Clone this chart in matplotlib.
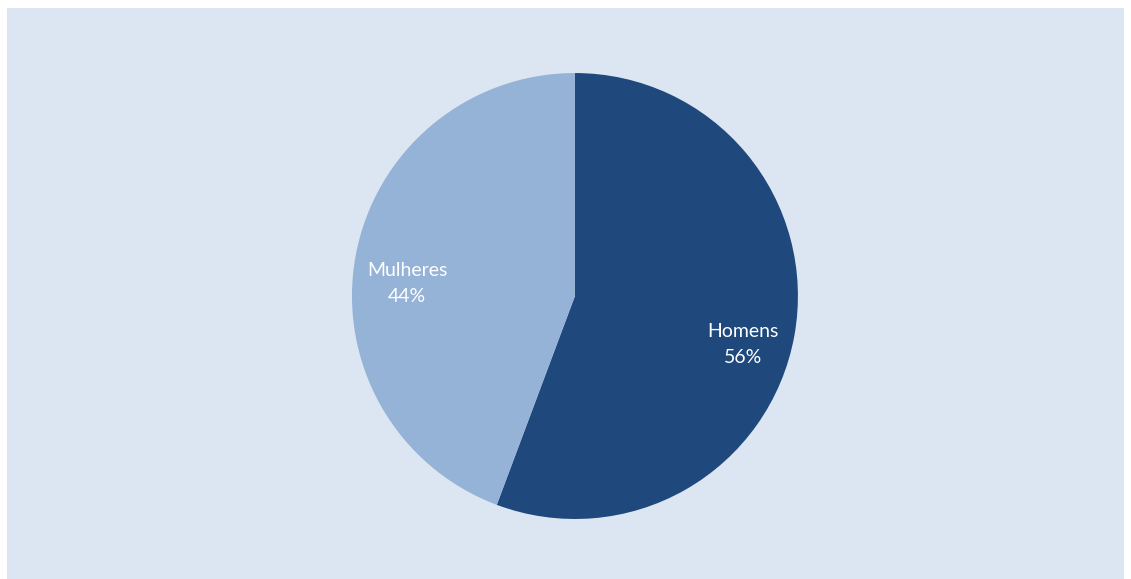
import matplotlib.pyplot as plt
from matplotlib.patches import Rectangle

categorias = ["Homens", "Mulheres"]
valores = [55.7, 44.3]
cores = ["#1f497d", "#95b3d7"]

plt.rcParams['font.family'] = ['Lato', 'DejaVu Sans']

fig = plt.figure(figsize=(11.31, 5.79), dpi=100)
fig.patch.set_facecolor("white")
fig.patches.append(Rectangle((7/1131, 0), 1117/1131, 571/579, transform=fig.transFigure,
                             facecolor="#dce6f2", edgecolor="none", zorder=-10))

ax = fig.add_axes([0.3112, 0.1036, 0.3943, 0.7703])
ax.set_facecolor("none")
wedges, textos = ax.pie(valores, colors=cores, startangle=90, counterclock=False,
                        labels=[f"{c}\n{round(v)}%" for c, v in zip(categorias, valores)],
                        labeldistance=0.765,
                        wedgeprops=dict(linewidth=0),
                        textprops=dict(color="white", fontsize=14, ha="center",
                                       va="center", linespacing=1.65))
for t in textos:
    t.set_horizontalalignment("center")
    x, y = t.get_position()
    t.set_position((x, y - 0.08))
ax.set_aspect("equal")
ax.set_xlim(-1, 1)
ax.set_ylim(-1, 1)

plt.savefig("out.png", dpi=100, facecolor=fig.get_facecolor())
